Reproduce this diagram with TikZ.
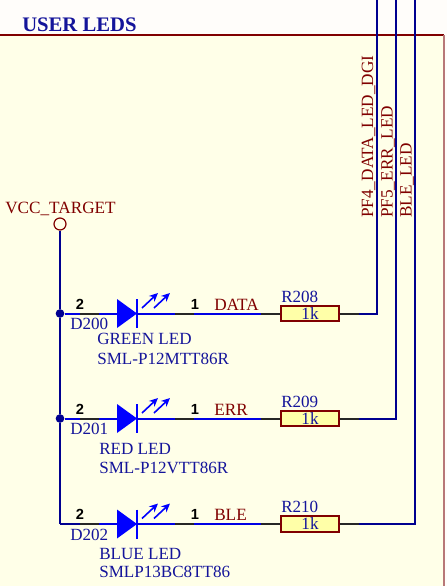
\documentclass[tikz,border=0pt]{standalone}
\usepackage{fontspec}
\setmainfont{Liberation Serif}
\newfontfamily\pinfont{Liberation Sans}
\usetikzlibrary{calc,arrows.meta}
\definecolor{sheetfill}{HTML}{FFFFE8}
\definecolor{pagefill}{HTML}{FFFDFA}
\definecolor{wirenavy}{HTML}{000090}
\definecolor{ledblue}{HTML}{0000FF}
\definecolor{textnavy}{HTML}{14149A}
\definecolor{netred}{HTML}{800000}
\definecolor{resfill}{HTML}{FFFFA8}
\definecolor{sheetedge}{HTML}{B87878}
\tikzset{
	wire/.style={color=wirenavy, line width=1.5pt},
	ledwire/.style={color=ledblue!90!black, line width=1.5pt},
	pinwire/.style={color=black!85, line width=1.5pt},
	netlabel/.style={color=netred, font=\fontsize{12.9}{14}\selectfont, inner sep=0pt, anchor=base west},
	partlabel/.style={color=textnavy, font=\fontsize{12.8}{14}\selectfont, inner sep=0pt, anchor=base west},
	pinlabel/.style={color=black, font=\pinfont\bfseries\fontsize{11}{12}\selectfont, inner sep=0pt},
	resbox/.style={draw=netred, fill=resfill, line width=1.6pt, minimum width=43pt, minimum height=11.5pt, inner sep=0pt, text=textnavy, font=\fontsize{12.9}{14}\selectfont},
	junction/.style={circle, fill=wirenavy, inner sep=0pt, minimum size=6.5pt},
	ledarrow/.style={color=ledblue, line width=1.2pt, -{Stealth[length=6.5pt,width=6pt]}},
}
\begin{document}
\begin{tikzpicture}[x=0.75pt, y=-0.75pt]
	%%%%% START %%%%%
	\useasboundingbox (0, 0) rectangle (447, 586);
	\fill[pagefill] (0, 0) rectangle (447, 586);
	\fill[sheetfill] (0, 35) rectangle (444, 586);
	\draw[color=netred, line width=0.8pt] (0, 35) -- (444, 35);
	\draw[color=sheetedge, line width=1pt] (444, 35) -- (444, 586);
	
	\node[partlabel, font=\bfseries\fontsize{15.5}{18}\selectfont] (title) at (22, 31.5) {USER LEDS};
	
	%%%%% supply %%%%%
	\node[netlabel] (vcc) at (5, 213.5) {VCC\_TARGET};
	\node[circle, draw=netred, fill=sheetfill, line width=0.9pt, minimum size=9pt, inner sep=0pt] (vccpin) at (60, 224) {};
	\node[junction] (j200) at (60, 313.5) {};
	\node[junction] (j201) at (60, 418.5) {};
	\coordinate (j202) at (60, 524);
	\draw[wire] (vccpin.south) -- (j200) -- (j201) -- (j202);
	
	%%%%% first row %%%%%
	\coordinate (a200) at (117, 313.5);
	\coordinate (k200) at (137, 313.5);
	\node[resbox] (R208) at (310, 313.5) {1k};
	\coordinate (top208) at (376.5, 0);
	\draw[ledwire] (j200) -- (a200);
	\draw[pinwire] (80, 313.5) -- (99, 313.5);
	\fill[ledblue] (117, 299) -- (137, 313.5) -- (117, 328) -- cycle;
	\draw[ledblue, line width=1.5pt] (137, 299) -- (137, 328);
	\draw[ledwire] (k200) -- (R208.west);
	\draw[pinwire] (175, 313.5) -- (194, 313.5);
	\draw[pinwire] (R208.west) -- ++(-19, 0);
	\draw[wire] (R208.east) -| (top208);
	\draw[pinwire] (R208.east) -- ++(19, 0);
	\draw[ledarrow] (142, 308) -- (158, 293);
	\draw[ledarrow] (154, 308) -- (170, 293);
	\node[pinlabel] (p2a) at (80, 304) {2};
	\node[pinlabel] (p1a) at (195, 304) {1};
	\node[netlabel] (data) at (214, 310) {DATA};
	\node[partlabel] (n208) at (281, 302) {R208};
	\node[partlabel] (D200) at (70, 329.5) {D200};
	\node[partlabel] (v200) at (97, 344) {GREEN LED};
	\node[partlabel] (m200) at (97, 364) {SML-P12MTT86R};
	
	%%%%% second row %%%%%
	\coordinate (a201) at (117, 418.5);
	\coordinate (k201) at (137, 418.5);
	\node[resbox] (R209) at (310, 418.5) {1k};
	\coordinate (top209) at (396, 0);
	\draw[ledwire] (j201) -- (a201);
	\draw[pinwire] (80, 418.5) -- (99, 418.5);
	\fill[ledblue] (117, 404) -- (137, 418.5) -- (117, 433) -- cycle;
	\draw[ledblue, line width=1.5pt] (137, 404) -- (137, 433);
	\draw[ledwire] (k201) -- (R209.west);
	\draw[pinwire] (175, 418.5) -- (194, 418.5);
	\draw[pinwire] (R209.west) -- ++(-19, 0);
	\draw[wire] (R209.east) -| (top209);
	\draw[pinwire] (R209.east) -- ++(19, 0);
	\draw[ledarrow] (142, 413) -- (158, 398);
	\draw[ledarrow] (154, 413) -- (170, 398);
	\node[pinlabel] (p2b) at (80, 409) {2};
	\node[pinlabel] (p1b) at (195, 409) {1};
	\node[netlabel] (err) at (214, 415) {ERR};
	\node[partlabel] (n209) at (281, 407) {R209};
	\node[partlabel] (D201) at (70, 434.5) {D201};
	\node[partlabel] (v201) at (99, 454) {RED LED};
	\node[partlabel] (m201) at (99, 473) {SML-P12VTT86R};
	
	%%%%% third row %%%%%
	\coordinate (a202) at (117, 524);
	\coordinate (k202) at (137, 524);
	\node[resbox] (R210) at (310, 524) {1k};
	\coordinate (top210) at (415, 0);
	\draw[wire] (j202) -- (80, 524);
	\draw[ledwire] (99, 524) -- (a202);
	\draw[pinwire] (80, 524) -- (99, 524);
	\fill[ledblue] (117, 509.5) -- (137, 524) -- (117, 538.5) -- cycle;
	\draw[ledblue, line width=1.5pt] (137, 509.5) -- (137, 538.5);
	\draw[ledwire] (k202) -- (R210.west);
	\draw[pinwire] (175, 524) -- (194, 524);
	\draw[pinwire] (R210.west) -- ++(-19, 0);
	\draw[wire] (R210.east) -| (top210);
	\draw[pinwire] (R210.east) -- ++(19, 0);
	\draw[ledarrow] (142, 518.5) -- (158, 503.5);
	\draw[ledarrow] (154, 518.5) -- (170, 503.5);
	\node[pinlabel] (p2c) at (80, 514.5) {2};
	\node[pinlabel] (p1c) at (195, 514.5) {1};
	\node[netlabel] (ble) at (214, 520.5) {BLE};
	\node[partlabel] (n210) at (281, 512.5) {R210};
	\node[partlabel] (D202) at (70, 540) {D202};
	\node[partlabel] (v202) at (99, 559) {BLUE LED};
	\node[partlabel] (m202) at (99, 577) {SMLP13BC8TT86};
	
	%%%%% net names %%%%%
	\node[netlabel, rotate=90] (net208) at (373, 218) {PF4\_DATA\_LED\_DGI};
	\node[netlabel, rotate=90] (net209) at (392.5, 218) {PF5\_ERR\_LED};
	\node[netlabel, rotate=90] (net210) at (411.5, 218) {BLE\_LED};
	%%%%% END %%%%%
\end{tikzpicture}
\end{document}
